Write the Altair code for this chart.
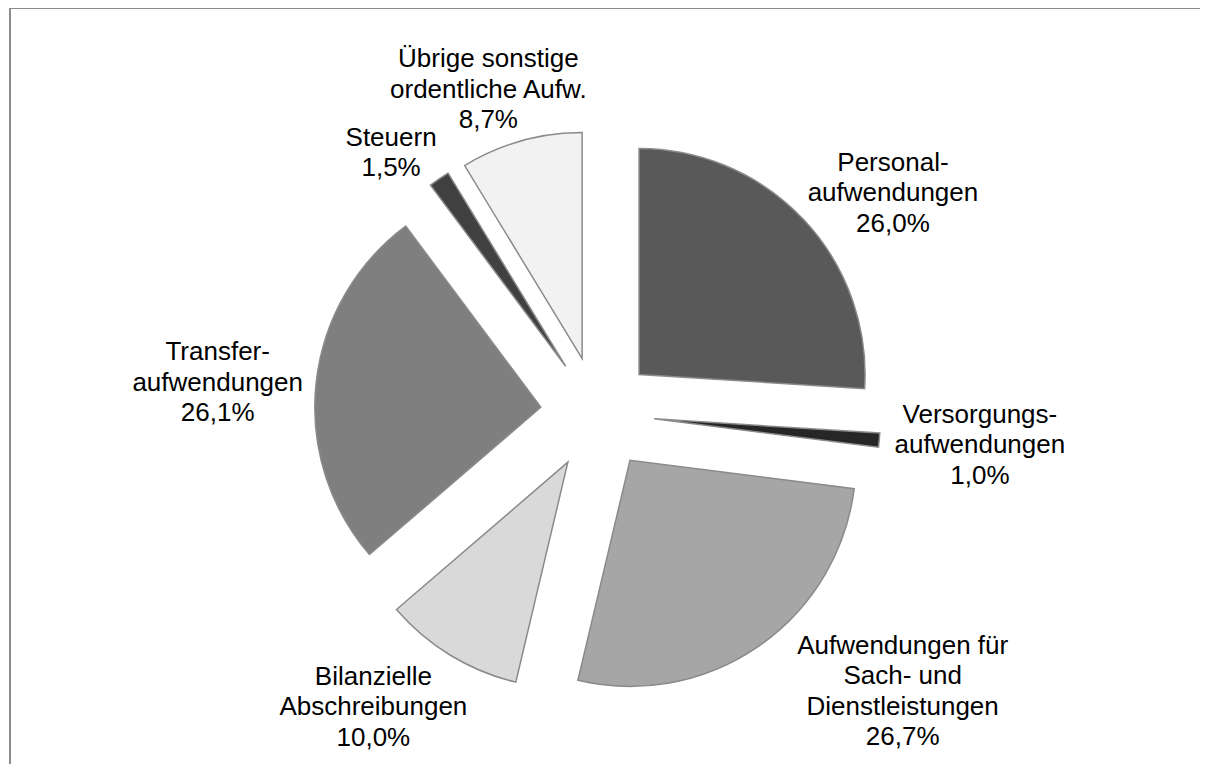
import altair as alt
import pandas as pd

# ---- data ----
CATEGORIES = [
    "Personal-\naufwendungen",
    "Versorgungs-\naufwendungen",
    "Aufwendungen für\nSach- und\nDienstleistungen",
    "Bilanzielle\nAbschreibungen",
    "Transfer-\naufwendungen",
    "Steuern",
    "Übrige sonstige\nordentliche Aufw.",
]
SHARES = [26.0, 1.0, 26.7, 10.0, 26.1, 1.5, 8.7]

# ---- styles ----
FILLS = ["#595959", "#262626", "#A6A6A6", "#D9D9D9", "#7F7F7F", "#404040", "#F2F2F2"]
LABEL_NUDGE_X = [33, 24, 100, -37, -22, -5, -12]
LABEL_NUDGE_Y = [-26, 2, 18, 14, -9, -38, -23]

W, H = 1192, 756
CX, CY = 589.5, 405.5      # pie centre inside the view (px)
RADIUS = 226
EXPLODE = 57
LABEL_R = 360
LINE_H = 30.5

labels = [
    f"{c}\n" + f"{v:.1f}".replace(".", ",") + "%" for c, v in zip(CATEGORIES, SHARES)
]

df = pd.DataFrame({
    "order": list(range(len(CATEGORIES))),
    "cat": CATEGORIES,
    "value": SHARES,
    "fill": FILLS,
    "nx": LABEL_NUDGE_X,
    "ny": LABEL_NUDGE_Y,
    "nl": [s.count("\n") + 1 for s in labels],
    "label": labels,
})

xs = alt.Scale(domain=[-CX, W - CX], nice=False, zero=False)
ys = alt.Scale(domain=[-(H - CY), CY], nice=False, zero=False)

base = (
    alt.Chart(df)
    .transform_joinaggregate(total="sum(value)")
    .transform_window(cum="sum(value)", sort=[alt.SortField("order")], frame=[None, 0])
    .transform_calculate(
        t0="(datum.cum - datum.value) / datum.total * 2 * PI",
        t1="datum.cum / datum.total * 2 * PI",
    )
    .transform_calculate(mid="(datum.t0 + datum.t1) / 2")
    .transform_calculate(
        ox=f"{EXPLODE} * sin(datum.mid)",
        oy=f"{EXPLODE} * cos(datum.mid)",
        lx=f"{LABEL_R} * sin(datum.mid) + datum.nx",
        ly=f"{LABEL_R} * cos(datum.mid) + datum.ny + (datum.nl - 1) * {LINE_H} / 2",
    )
)

arcs = base.mark_arc(radius=RADIUS, stroke="#8a8a8a", strokeWidth=1.5).encode(
    x=alt.X("ox:Q", scale=xs, axis=None),
    y=alt.Y("oy:Q", scale=ys, axis=None),
    theta=alt.Theta("t0:Q", scale=None, stack=False),
    theta2="t1:Q",
    fill=alt.Fill("fill:N", scale=None),
    order=alt.Order("order:Q"),
)

texts = base.mark_text(
    font="Liberation Sans", fontSize=26, lineHeight=LINE_H, align="center",
    baseline="middle", lineBreak="\n", color="#000000",
).encode(
    x=alt.X("lx:Q", scale=xs, axis=None),
    y=alt.Y("ly:Q", scale=ys, axis=None),
    text="label:N",
)

border_df = pd.DataFrame({"k": [0]})
left_line = alt.Chart(border_df).mark_rule(color="#8c8c8c", strokeWidth=2).encode(
    x=alt.value(2), y=alt.value(0), y2=alt.value(H)
)
top_line = alt.Chart(border_df).mark_rule(color="#8c8c8c", strokeWidth=2).encode(
    x=alt.value(2), x2=alt.value(W), y=alt.value(0)
)

chart = (
    alt.layer(arcs, texts, left_line, top_line)
    .properties(width=W, height=H, padding=0, autosize=alt.AutoSizeParams(type="none"),
                background="white")
    .configure_view(stroke=None)
)

chart.save("out.html", embed_options={"renderer": "svg", "actions": False})
